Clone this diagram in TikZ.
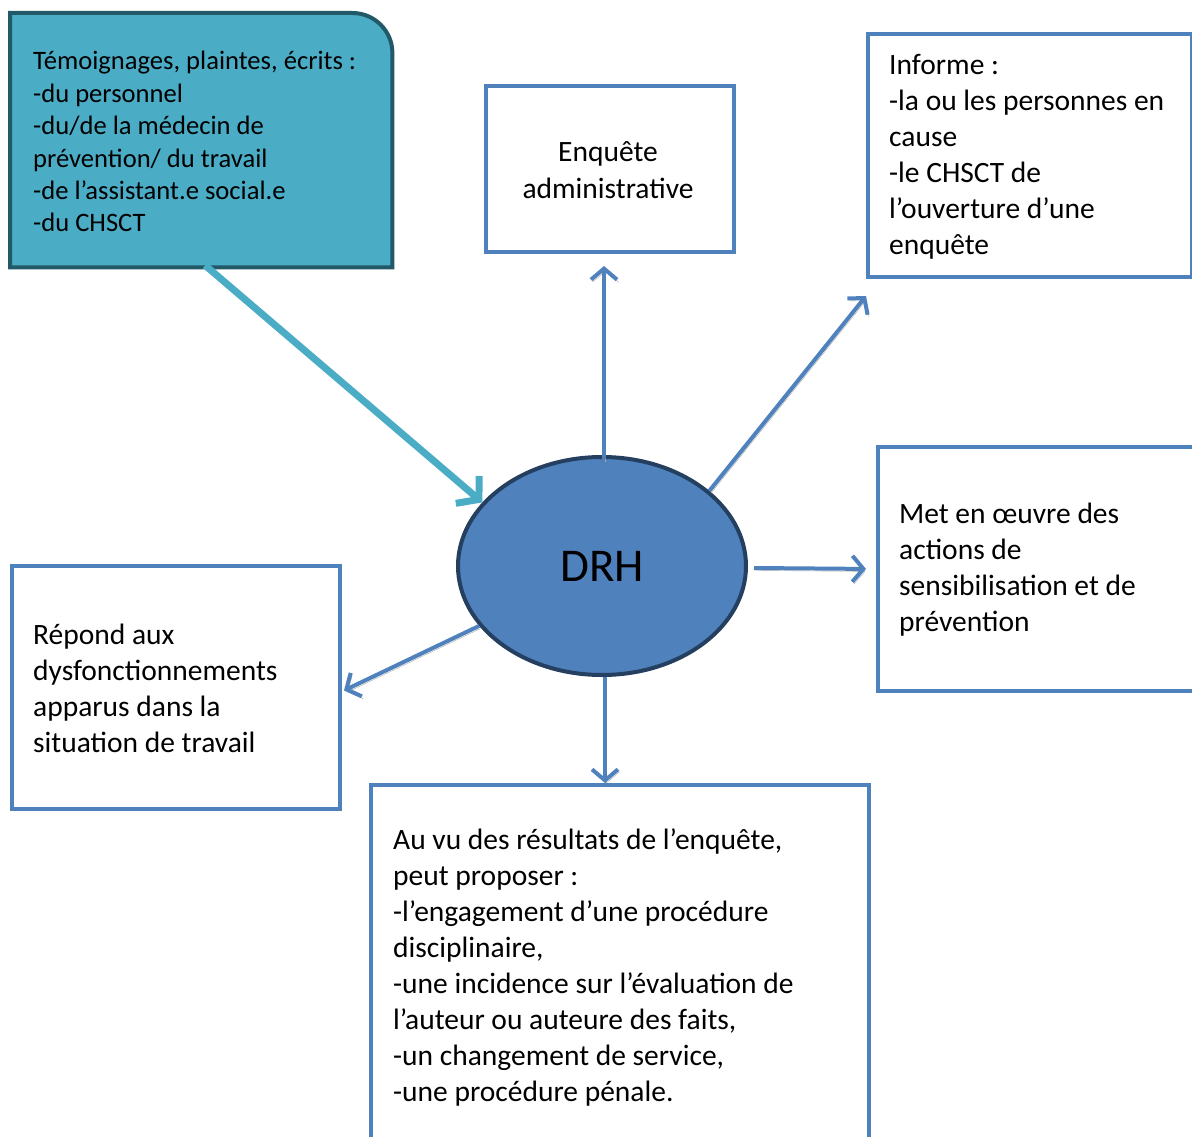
\documentclass[tikz,border=0pt]{standalone}
\usepackage{fontspec}
\setmainfont{Carlito}
\usetikzlibrary{arrows.meta,calc,shapes.geometric}
\definecolor{boxblue}{HTML}{4F81BD}
\definecolor{darkblue}{HTML}{243F60}
\definecolor{tealfill}{HTML}{4BACC6}
\definecolor{tealdark}{HTML}{215968}
\begin{document}
\begin{tikzpicture}[x=1pt,y=-1pt,
  box/.style={draw=boxblue, line width=4pt, fill=white, anchor=north west, inner sep=0pt},
  txt/.style={anchor=base west, inner sep=0pt, text width=460pt, align=flush left, font=\fontsize{29.5pt}{36pt}\selectfont},
  smalltxt/.style={anchor=base west, inner sep=0pt, text width=360pt, align=flush left, font=\fontsize{26.6pt}{32.4pt}\selectfont},
  shadowed/.style={preaction={draw=black!35, transform canvas={shift={(1.5pt,-2.5pt)}}}},
  arr/.style={draw=boxblue, line width=4pt, shadowed, -{Straight Barb[length=11pt,width=26pt]}},
  tealarr/.style={draw=tealfill, line width=7pt, shadowed, -{Straight Barb[length=15pt,width=36pt]}}
]
\useasboundingbox (0,0) rectangle (1192,1137);
\clip (0,0) rectangle (1192,1137);

% source box (rounded top-right corner)
\node[anchor=north west, inner sep=0pt, minimum width=382pt, minimum height=254pt] (src) at (10,13) {};
\filldraw[fill=tealfill, draw=tealdark, line width=4pt]
  (src.south west) -- (src.north west) -- ($(src.north east)+(-40,0)$)
  arc[start angle=-90, end angle=0, radius=40] -- (src.south east) -- cycle;
\node[smalltxt] (srct) at (33,70) {Témoignages, plaintes, écrits :\\-du personnel\\-du/de la médecin de\\prévention/ du travail\\-de l’assistant.e social.e\\-du CHSCT};

% boxes
\node[box, minimum width=248pt, minimum height=166pt] (enq) at (484,84) {};
\node[anchor=base, align=center, text width=240pt, inner sep=0pt, font=\fontsize{29.5pt}{36pt}\selectfont] (enqt) at (608,162) {Enquête\\administrative};

\node[box, minimum width=324pt, minimum height=243pt] (inf) at (866,32) {};
\node[txt] (inft) at (889,75) {Informe :\\-la ou les personnes en\\cause\\-le CHSCT de\\l’ouverture d’une\\enquête};

\node[box, minimum width=340pt, minimum height=244pt] (met) at (876,445) {};
\node[txt] (mett) at (899,523) {Met en œuvre des\\actions de\\sensibilisation et de\\prévention};

\node[box, minimum width=328pt, minimum height=243pt] (rep) at (10,564) {};
\node[txt] (rept) at (33,644) {Répond aux\\dysfonctionnements\\apparus dans la\\situation de travail};

\node[box, minimum width=498pt, minimum height=400pt] (bot) at (369,783) {};
\node[txt] (bott) at (393,849) {Au vu des résultats de l’enquête,\\peut proposer :\\-l’engagement d’une procédure\\disciplinaire,\\-une incidence sur l’évaluation de\\l’auteur ou auteure des faits,\\-un changement de service,\\-une procédure pénale.};

% central ellipse
\node[ellipse, draw=darkblue, fill=boxblue, line width=4pt, minimum width=288pt, minimum height=218pt, inner sep=0pt, font=\fontsize{47pt}{50pt}\selectfont] (drh) at (602,566) {DRH};

% connectors
\draw[tealarr] ($(src.south)+(4,-2)$) -- (drh.152);
\draw[arr, shorten >=12pt] ($(drh.north)+(2,4)$) -- ($(drh.north |- enq.south)+(2,0)$);
\draw[arr] (drh.35) -- ($(inf.south west)+(0,17)$);
\draw[arr, shorten >=10pt] ($(drh.east)+(6,2)$) -- (met.west);
\draw[arr] ($(drh.south)+(3,0)$) -- ($(drh.south |- bot.north)+(3,0)$);
\draw[arr] (drh.206) -- ($(rep.east)+(2,3)$);
\end{tikzpicture}
\end{document}
